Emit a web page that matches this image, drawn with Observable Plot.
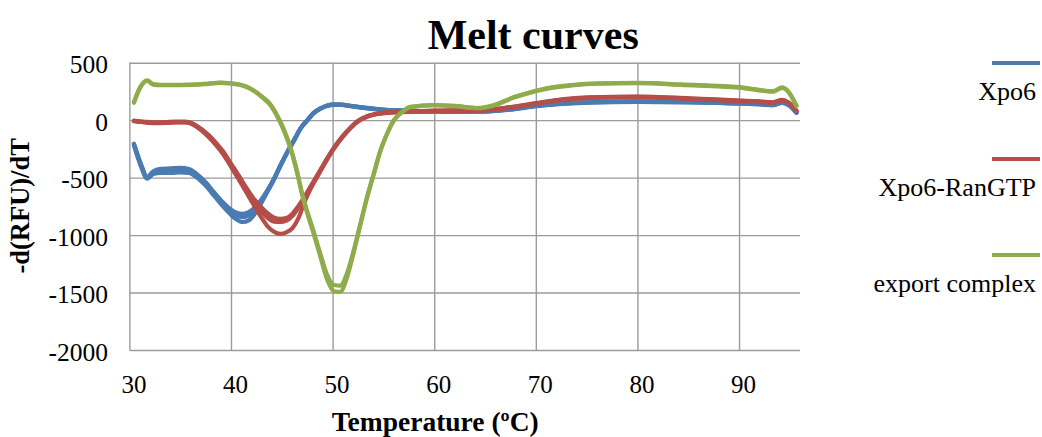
<!DOCTYPE html>
<html>
<head>
<meta charset="utf-8">
<script src="https://cdn.jsdelivr.net/npm/d3@7"></script>
<script src="https://cdn.jsdelivr.net/npm/@observablehq/plot@0.6"></script>
<style>
  html, body { margin: 0; padding: 0; background: #fff; }
  #chart { width: 1042px; height: 437px; }
  #chart svg text { font-family: 'Liberation Serif', 'Times New Roman', Times, serif; }
</style>
</head>
<body>
<div id="chart"></div>
<script>
// ---- Data ----
const seriesNames = ["Xpo6", "Xpo6-RanGTP", "export complex"];
const xTicks = [30, 40, 50, 60, 70, 80, 90];
const yTicks = [-2000, -1500, -1000, -500, 0, 500];

// Xpo6 (three replicate wells)
const xpo6Temp = [30.4, 31.1, 31.7, 32.3, 33, 34, 35, 35.8, 36.6, 37.5, 38.3, 39.1, 39.9, 40.5, 41.1, 41.7, 42.3, 42.9, 43.5, 44.2, 44.8, 45.5, 46.2, 46.8, 47.5, 48.1, 48.8, 49.4, 50.1, 50.8, 51.7, 52.7, 54, 55.3, 57, 60, 62, 65, 67.5, 70, 72.5, 75, 80, 85, 90, 92, 93.3, 94.2, 94.8, 95.6];
const xpo6RepA = [-200, -380, -490, -440, -420, -415, -410, -420, -465, -540, -625, -705, -770, -800, -810, -795, -755, -690, -610, -500, -390, -270, -160, -65, 10, 70, 110, 132, 142, 140, 130, 118, 105, 95, 88, 82, 80, 82, 100, 130, 150, 160, 168, 163, 152, 145, 138, 160, 140, 72];
const xpo6RepB = [-205, -390, -495, -450, -432, -428, -425, -432, -475, -552, -638, -720, -790, -825, -840, -825, -775, -700, -615, -505, -392, -272, -162, -66, 8, 68, 108, 130, 140, 139, 128, 116, 103, 93, 86, 80, 79, 81, 98, 128, 148, 158, 166, 161, 150, 143, 136, 157, 138, 70];
const xpo6RepC = [-215, -400, -505, -465, -455, -455, -450, -455, -495, -570, -655, -740, -815, -860, -882, -868, -810, -722, -625, -510, -398, -278, -168, -70, 5, 65, 105, 128, 138, 137, 126, 114, 101, 91, 84, 78, 77, 79, 96, 126, 146, 156, 164, 159, 148, 141, 134, 155, 136, 68];

// Xpo6-RanGTP (three replicate wells)
const ranTemp = [30.4, 31.5, 32.5, 33.5, 34.5, 35.5, 36.3, 37, 37.8, 38.5, 39.2, 40, 40.8, 41.5, 42.2, 43, 43.6, 44.2, 44.8, 45.4, 46, 46.6, 47.2, 47.8, 48.5, 49.2, 50, 50.8, 51.6, 52.4, 53.4, 54.6, 56, 58, 60, 62, 65, 67.5, 70, 72.5, 75, 80, 85, 90, 92, 93.3, 94.2, 94.8, 95.6];
const ranRepA = [0, -10, -15, -12, -8, -8, -30, -70, -130, -195, -270, -380, -490, -590, -680, -760, -810, -845, -855, -848, -810, -740, -660, -570, -465, -360, -245, -150, -70, -5, 40, 65, 76, 82, 87, 90, 93, 118, 152, 185, 202, 210, 195, 175, 167, 160, 182, 160, 88];
const ranRepB = [-3, -14, -20, -17, -12, -12, -35, -78, -140, -208, -285, -398, -510, -615, -710, -795, -850, -878, -882, -870, -828, -755, -672, -580, -472, -365, -250, -154, -73, -8, 38, 63, 74, 80, 85, 88, 91, 116, 150, 182, 199, 207, 192, 172, 164, 157, 179, 157, 85];
const ranRepC = [-5, -16, -22, -20, -15, -15, -38, -82, -146, -215, -295, -408, -525, -630, -735, -850, -925, -968, -985, -972, -935, -845, -705, -590, -480, -370, -254, -157, -76, -10, 36, 61, 72, 78, 83, 86, 89, 114, 148, 180, 197, 205, 190, 170, 162, 155, 177, 155, 83];

// export complex (two replicate wells)
const cplxTemp = [30.4, 31, 31.7, 32.3, 33, 35, 37.3, 38.9, 40.6, 41.5, 42.2, 43, 43.8, 44.5, 45.2, 45.8, 46.45, 47, 47.4, 48, 48.75, 49.4, 50.1, 50.7, 51.4, 52.05, 52.7, 53.35, 54, 54.65, 55.3, 55.96, 56.9, 57.6, 59.9, 62, 64.2, 66, 67.8, 69.5, 71.1, 73.5, 76, 80, 84.2, 90, 93.3, 94.2, 94.7, 95.6];
const cplxRepA = [161, 290, 350, 318, 312, 312, 320, 332, 318, 295, 262, 210, 145, 45, -85, -230, -440, -650, -775, -940, -1160, -1340, -1430, -1435, -1320, -1120, -890, -660, -460, -260, -114, 2, 85, 120, 136, 128, 110, 140, 205, 250, 283, 310, 325, 330, 315, 292, 257, 290, 264, 132];
const cplxRepB = [155, 284, 345, 314, 308, 309, 317, 329, 315, 292, 258, 205, 138, 36, -96, -242, -452, -665, -790, -960, -1185, -1380, -1485, -1490, -1355, -1140, -900, -668, -466, -265, -118, -2, 82, 118, 134, 126, 108, 137, 201, 246, 279, 306, 321, 326, 311, 288, 253, 286, 260, 128];

// ---- Styles ----
const seriesColors = ["#4a7bb1", "#b54d49", "#8fac4c"];
const serif = "'Liberation Serif', 'Times New Roman', Times, serif";

// ---- Build table ----
const rows = [];
function addRep(series, rep, temps, vals) {
  temps.forEach((t, i) => rows.push({series, rep: series + "-" + rep, t, v: vals[i]}));
}
addRep(seriesNames[0], "A", xpo6Temp, xpo6RepA);
addRep(seriesNames[0], "B", xpo6Temp, xpo6RepB);
addRep(seriesNames[0], "C", xpo6Temp, xpo6RepC);
addRep(seriesNames[1], "A", ranTemp, ranRepA);
addRep(seriesNames[1], "B", ranTemp, ranRepB);
addRep(seriesNames[1], "C", ranTemp, ranRepC);
addRep(seriesNames[2], "A", cplxTemp, cplxRepA);
addRep(seriesNames[2], "B", cplxTemp, cplxRepB);

const gridStyle = {stroke: "#9b9b9b", strokeOpacity: 1, strokeWidth: 1.4};

const chart = Plot.plot({
  width: 1042,
  height: 437,
  marginLeft: 129.4,
  marginRight: 242,
  marginTop: 62.7,
  marginBottom: 87,
  style: {fontFamily: serif, fontSize: "25px", color: "#000", background: "#fff", overflow: "visible"},
  x: {domain: [30, 96]},
  y: {domain: [-2000, 500]},
  color: {domain: seriesNames, range: seriesColors},
  marks: [
    Plot.gridX(xTicks, gridStyle),
    Plot.gridY(yTicks, gridStyle),
    Plot.axisX(xTicks, {tickSize: 0, tickPadding: 25, dx: 4, fontSize: 25, fontFamily: serif, tickFormat: d => String(d), label: null, fill: "#000"}),
    Plot.axisY(yTicks, {tickSize: 0, tickPadding: 22, dy: 2, fontSize: 25.5, fontFamily: serif, tickFormat: d => String(d), label: null, fill: "#000"}),
    Plot.line(rows, {x: "t", y: "v", z: "rep", stroke: "series", strokeWidth: 4.2, curve: "monotone-x"}),
    Plot.text(["Melt curves"], {text: d => d, frameAnchor: "top", textAnchor: "middle", lineAnchor: "bottom", dx: 68, dy: -14.7, fontSize: 42, fontWeight: "bold", fontFamily: serif, fill: "#000"}),
    Plot.text(["Temperature (ºC)"], {text: d => d, frameAnchor: "bottom", textAnchor: "middle", lineAnchor: "bottom", dx: -30, dy: 80, fontSize: 27.5, fontWeight: "bold", fontFamily: serif, fill: "#000"}),
    Plot.text(["-d(RFU)/dT"], {text: d => d, frameAnchor: "left", textAnchor: "middle", lineAnchor: "bottom", rotate: -90, dx: -101, dy: -1, fontSize: 26.5, fontWeight: "bold", fontFamily: serif, fill: "#000"})
  ]
});
document.getElementById("chart").appendChild(chart);

// ---- Legend (right side) ----
const svg = d3.select(chart);
const lg = svg.append("g");
seriesNames.forEach((name, i) => {
  lg.append("line")
    .attr("x1", 992).attr("x2", 1040)
    .attr("y1", 63 + 96 * i).attr("y2", 63 + 96 * i)
    .attr("stroke", seriesColors[i]).attr("stroke-width", 4);
  lg.append("text")
    .attr("x", 1036).attr("y", 100 + 96 * i)
    .attr("text-anchor", "end").attr("fill", "#000")
    .style("font-family", serif).style("font-size", "26px")
    .text(name);
});
</script>
</body>
</html>
